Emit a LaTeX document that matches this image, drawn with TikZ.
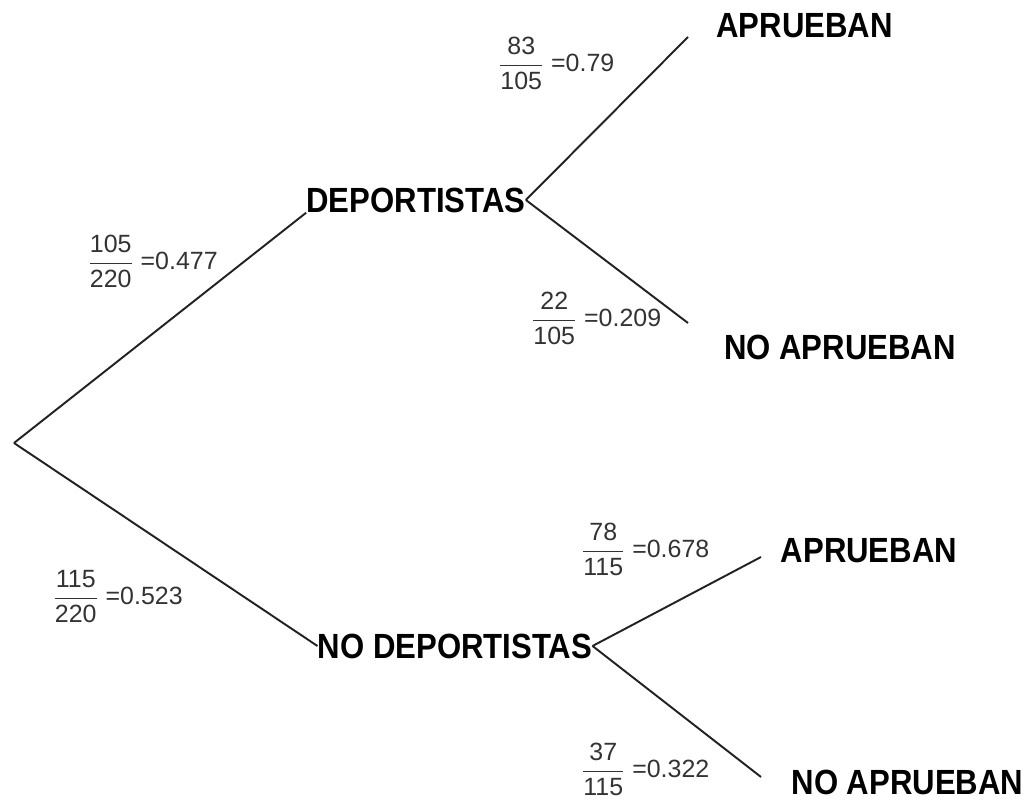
\documentclass[tikz,border=0pt]{standalone}
\usepackage{fontspec}
\setmainfont{Liberation Sans}
\newfontfamily\labfont{Liberation Sans}[FakeStretch=0.89]
\usepackage{tikz}
\definecolor{probgrey}{HTML}{333333}
\definecolor{branchgrey}{HTML}{222222}
\newcommand{\prob}[3]{\ensuremath{\displaystyle\frac{\mbox{#1}}{\mbox{#2}}}~=#3}
\tikzset{
  lab/.style={font=\labfont\bfseries\fontsize{19.9}{24}\selectfont, inner sep=0pt},
  pr/.style={font=\fontsize{14.2}{17}\selectfont, text=probgrey, inner sep=0pt, anchor=base west},
  branch/.style={draw=branchgrey, line width=1.1pt}
}

\begin{document}
\begin{tikzpicture}
\useasboundingbox (0,0) rectangle (20.58,16.02);
\coordinate (root) at (0.28,7.16);
\node[lab] (dep) at (8.32,12.02) {DEPORTISTAS};
\node[lab] (nodep) at (9.10,3.10) {NO DEPORTISTAS};
\coordinate (depyes) at (13.76,15.28);
\node[lab] (depyeslabel) at (16.09,15.51) {APRUEBAN};
\coordinate (depno) at (13.76,9.56);
\node[lab] (depnolabel) at (16.80,9.07) {NO APRUEBAN};
\coordinate (nodepyes) at (15.22,4.88);
\node[lab] (nodepyeslabel) at (17.38,5.00) {APRUEBAN};
\coordinate (nodepno) at (15.22,0.48);
\node[lab] (nodepnolabel) at (18.15,0.38) {NO APRUEBAN};
\draw[branch] [-] (root) -- (dep.south west);
\draw[branch] [-] (root) -- (nodep.west);
\draw[branch] [-] (dep.east) -- (depyes);
\draw[branch] [-] (dep.east) -- (depno);
\draw[branch] [-] (nodep.east) -- (nodepyes);
\draw[branch] [-] (nodep.east) -- (nodepno);
\node[pr] (pdep) at (1.75,10.62) {\prob{105}{220}{0.477}};
\node[pr] (pnodep) at (1.05,3.92) {\prob{115}{220}{0.523}};
\node[pr] (pdepyes) at (9.96,14.58) {\prob{83}{105}{0.79}};
\node[pr] (pdepno) at (10.62,9.48) {\prob{22}{105}{0.209}};
\node[pr] (pnodepyes) at (11.62,4.86) {\prob{78}{115}{0.678}};
\node[pr] (pnodepno) at (11.62,0.46) {\prob{37}{115}{0.322}};
\end{tikzpicture}
\end{document}
